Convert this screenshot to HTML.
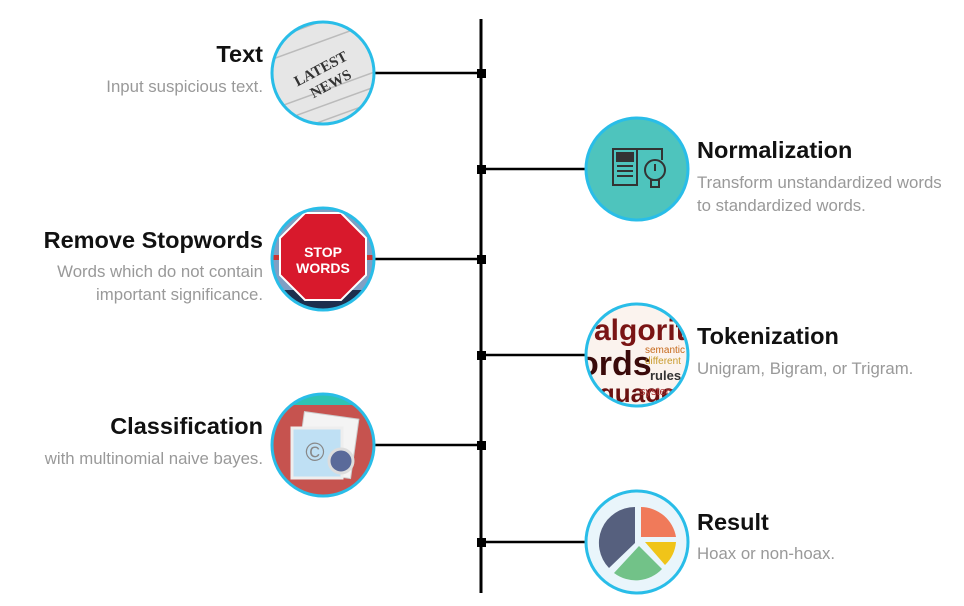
<!DOCTYPE html>
<html><head><meta charset="utf-8"><style>
body{margin:0;background:#fff;}
svg{display:block;font-family:"Liberation Sans",Arial,sans-serif;}
.t{font-size:23.5px;font-weight:bold;fill:#111;}
.d{font-size:16.8px;fill:#999;}
</style></head><body>
<svg width="964" height="606" viewBox="0 0 964 606" xmlns="http://www.w3.org/2000/svg">
<defs>
<clipPath id="c1"><circle cx="323" cy="73" r="50"/></clipPath>
<clipPath id="c2"><circle cx="323" cy="259" r="50"/></clipPath>
<clipPath id="c3"><circle cx="323" cy="445" r="50"/></clipPath>
<clipPath id="c4"><circle cx="637" cy="355" r="50"/></clipPath>
</defs>
<line x1="481" y1="19" x2="481" y2="593" stroke="#000" stroke-width="3"/>
<g stroke="#000" stroke-width="2.5">
<line x1="375" y1="73" x2="481" y2="73"/>
<line x1="375" y1="259" x2="481" y2="259"/>
<line x1="375" y1="445" x2="481" y2="445"/>
<line x1="481" y1="169" x2="586" y2="169"/>
<line x1="481" y1="355" x2="586" y2="355"/>
<line x1="481" y1="542" x2="586" y2="542"/>
</g>
<g fill="#000">
<rect x="477" y="69" width="9" height="9"/><rect x="477" y="165" width="9" height="9"/>
<rect x="477" y="255" width="9" height="9"/><rect x="477" y="351" width="9" height="9"/>
<rect x="477" y="441" width="9" height="9"/><rect x="477" y="538" width="9" height="9"/>
</g>
<g clip-path="url(#c1)">
<rect x="270" y="20" width="110" height="110" fill="#e6e6e6"/>
<g stroke="#bbb" stroke-width="1.5">
<line x1="270" y1="40" x2="380" y2="0"/><line x1="270" y1="60" x2="380" y2="20"/><line x1="270" y1="110" x2="380" y2="70"/><line x1="270" y1="125" x2="380" y2="85"/><line x1="270" y1="140" x2="380" y2="100"/>
</g>
<text x="323" y="73" font-family="Liberation Serif" font-weight="bold" font-size="15" fill="#333" text-anchor="middle" transform="rotate(-28 323 73)">LATEST</text>
<text x="333" y="88" font-family="Liberation Serif" font-weight="bold" font-size="15" fill="#333" text-anchor="middle" transform="rotate(-28 333 88)">NEWS</text>
</g>
<circle cx="323" cy="73" r="51" fill="none" stroke="#29bde8" stroke-width="3"/>
<g clip-path="url(#c2)">
<rect x="270" y="205" width="110" height="110" fill="#7f9fc4"/>
<rect x="270" y="290" width="110" height="30" fill="#1d2f4d"/>
<rect x="270" y="255" width="110" height="5" fill="#c33"/>
<polygon points="305,213 341,213 366,238 366,275 341,300 305,300 280,275 280,238" fill="#d8192c" stroke="#fff" stroke-width="2"/>
<text x="323" y="257" font-size="14" font-weight="bold" fill="#fff" text-anchor="middle">STOP</text>
<text x="323" y="273" font-size="14" font-weight="bold" fill="#fff" text-anchor="middle">WORDS</text>
</g>
<circle cx="323" cy="259" r="51" fill="none" stroke="#29bde8" stroke-width="3"/>
<g clip-path="url(#c3)">
<rect x="270" y="392" width="110" height="110" fill="#2ec3b3"/>
<rect x="270" y="405" width="110" height="90" fill="#c6534f"/>
<rect x="300" y="415" width="55" height="60" fill="#f4f4f4" stroke="#ccc" transform="rotate(8 327 445)"/>
<rect x="292" y="428" width="50" height="50" fill="#bfe0f4" stroke="#eee" stroke-width="3"/>
<text x="315" y="461" font-size="26" fill="#888" text-anchor="middle">©</text>
<circle cx="341" cy="461" r="12" fill="#5a6a9a" stroke="#ddd" stroke-width="3"/>
</g>
<circle cx="323" cy="445" r="51" fill="none" stroke="#29bde8" stroke-width="3"/>
<circle cx="637" cy="169" r="51" fill="#4ec4bd" stroke="#29bde8" stroke-width="3"/>
<g fill="none" stroke="#333" stroke-width="2">
<rect x="613" y="149" width="24" height="36"/><rect x="617" y="153" width="16" height="8" fill="#333"/>
<line x1="617" y1="166" x2="633" y2="166"/><line x1="617" y1="171" x2="633" y2="171"/><line x1="617" y1="176" x2="633" y2="176"/>
<path d="M637 149 L662 149 L662 160"/><circle cx="655" cy="170" r="10"/><rect x="651" y="180" width="8" height="7"/>
</g>
<line x1="655" y1="164" x2="655" y2="171" stroke="#333" stroke-width="2"/>
<g clip-path="url(#c4)">
<rect x="584" y="302" width="110" height="110" fill="#fbf3ee"/>
<text x="594" y="340" font-size="30" font-weight="bold" fill="#7a1414">algorithm</text>
<text x="578" y="375" font-size="34" font-weight="bold" fill="#3a0a0a">ords</text>
<text x="583" y="402" font-size="26" font-weight="bold" fill="#6a1010">nguage</text>
<text x="645" y="353" font-size="10" fill="#c6681a">semantic</text>
<text x="645" y="364" font-size="10" fill="#c89a2a">different</text>
<text x="650" y="380" font-size="13" font-weight="bold" fill="#333">rules</text>
<text x="640" y="395" font-size="11" fill="#a33">system</text>
</g>
<circle cx="637" cy="355" r="51" fill="none" stroke="#29bde8" stroke-width="3"/>
<circle cx="637" cy="542" r="51" fill="#e9f5fb" stroke="#29bde8" stroke-width="3"/>
<path d="M635 507 A36 36 0 0 0 609 568 L635 543 Z" fill="#56607e"/>
<path d="M641 507 A36 36 0 0 1 676 537 L641 537 Z" fill="#f07a5a"/>
<path d="M645 542 L676 542 A36 36 0 0 1 665 565 Z" fill="#f0c419"/>
<path d="M639 546 L662 569 A36 36 0 0 1 614 573 Z" fill="#72c288"/>
<text class="t" x="263" y="62" text-anchor="end">Text</text>
<text class="d" x="263" y="92" text-anchor="end">Input suspicious text.</text>
<text class="t" x="263" y="248" text-anchor="end">Remove Stopwords</text>
<text class="d" x="263" y="277" text-anchor="end">Words which do not contain</text>
<text class="d" x="263" y="300" text-anchor="end">important significance.</text>
<text class="t" x="263" y="434" text-anchor="end">Classification</text>
<text class="d" x="263" y="464" text-anchor="end">with multinomial naive bayes.</text>
<text class="t" x="697" y="158">Normalization</text>
<text class="d" x="697" y="188">Transform unstandardized words</text>
<text class="d" x="697" y="211">to standardized words.</text>
<text class="t" x="697" y="344">Tokenization</text>
<text class="d" x="697" y="374">Unigram, Bigram, or Trigram.</text>
<text class="t" x="697" y="530">Result</text>
<text class="d" x="697" y="559">Hoax or non-hoax.</text>
</svg>
</body></html>
